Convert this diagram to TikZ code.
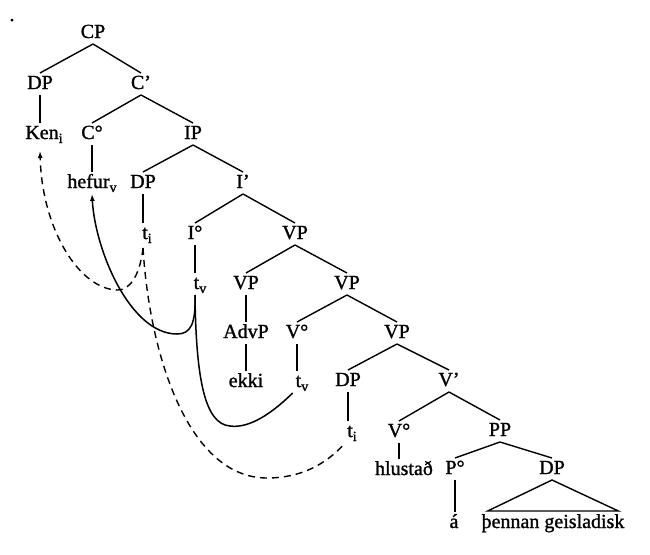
\documentclass[tikz,border=0pt]{standalone}
\usepackage{fontspec}
\setmainfont{Liberation Serif}[FakeBold=1.2]
\usetikzlibrary{arrows.meta,calc}
\newcommand\lsub[1]{\raisebox{-4pt}{\fontsize{14}{14}\selectfont #1}}
\begin{document}
\begin{tikzpicture}[x=1pt,y=-1pt,
  lbl/.style={inner sep=2pt,outer sep=1pt,text height=13pt,text depth=3pt,font=\fontsize{20}{24}\selectfont},
  branch/.style={line width=1.4pt},
  movedash/.style={line width=1.4pt,dash pattern=on 7pt off 5pt},
  movesolid/.style={line width=1.5pt},
  tip/.style={-{Latex[length=7pt,width=5pt]}}]
\useasboundingbox (0,0) rectangle (650,554);
\node[lbl,anchor=base] (dot) at (12,21) {.};
% nodes
\node[lbl] (cp) at (93,33) {CP};
\node[lbl] (dp1) at (40,84) {DP};
\node[lbl] (c1) at (141,84) {C'};
\node[lbl] (ken) at (44,134) {Ken\lsub{i}};
\node[lbl] (c0) at (92,134) {C°};
\node[lbl] (ip) at (193,134) {IP};
\node[lbl] (hefur) at (92,183) {hefur\lsub{v}};
\node[lbl] (dp2) at (143,183) {DP};
\node[lbl] (ibar) at (243,183) {I'};
\node[lbl] (ti1) at (147,234) {t\lsub{i}};
\node[lbl] (i0) at (195,234) {I°};
\node[lbl] (vp1) at (295,234) {VP};
\node[lbl] (tv1) at (200,284) {t\lsub{v}};
\node[lbl] (vp2) at (246,284) {VP};
\node[lbl] (vp3) at (347,284) {VP};
\node[lbl] (advp) at (246,333) {AdvP};
\node[lbl] (v0a) at (297,333) {V°};
\node[lbl] (vp4) at (397,333) {VP};
\node[lbl] (ekki) at (246,382) {ekki};
\node[lbl] (tv2) at (302,382) {t\lsub{v}};
\node[lbl] (dp3) at (348,381) {DP};
\node[lbl] (vbar) at (449,381) {V'};
\node[lbl] (ti2) at (352,432) {t\lsub{i}};
\node[lbl] (v0b) at (399,432) {V°};
\node[lbl] (pp) at (500,431) {PP};
\node[lbl] (hl) at (404,470) {hlustað};
\node[lbl] (p0) at (455,469) {P°};
\node[lbl] (dp4) at (552,469) {DP};
\node[lbl] (aa) at (454,523) {á};
\node[lbl] (pg) at (553,523) {þennan geisladisk};
% branches
\begin{scope}[branch]
\draw (cp.south) -- (dp1.north);
\draw (cp.south) -- (c1.north);
\draw (dp1.south) -- (dp1.south |- ken.north);
\draw (c1.south) -- (c0.north);
\draw (c1.south) -- (ip.north);
\draw (c0.south) -- (c0.south |- hefur.north);
\draw (ip.south) -- (dp2.north);
\draw (ip.south) -- (ibar.north);
\draw (dp2.south) -- (dp2.south |- ti1.north);
\draw (ibar.south) -- (i0.north);
\draw (ibar.south) -- (vp1.north);
\draw (i0.south) -- (i0.south |- tv1.north);
\draw (vp1.south) -- (vp2.north);
\draw (vp1.south) -- (vp3.north);
\draw (vp2.south) -- (advp.north);
\draw (advp.south) -- (ekki.north);
\draw (vp3.south) -- (v0a.north);
\draw (vp3.south) -- (vp4.north);
\draw (v0a.south) -- (v0a.south |- tv2.north);
\draw (vp4.south) -- (dp3.north);
\draw (vp4.south) -- (vbar.north);
\draw (dp3.south) -- (dp3.south |- ti2.north);
\draw (vbar.south) -- (v0b.north);
\draw (vbar.south) -- (pp.north);
\draw (v0b.south) -- (v0b.south |- hl.north);
\draw (pp.south) -- (p0.north);
\draw (pp.south) -- (dp4.north);
\draw (p0.south) -- (p0.south |- aa.north);
\draw (dp4.south) -- ($(pg.north west)+(9,-1)$) -- ($(pg.north east)+(-9,-1)$) -- cycle;
\end{scope}
% movement paths
\coordinate (tiup) at ($(dp2.south |- ti1.south)+(0,3)$);
\coordinate (tvup) at (i0.south |- tv1.south);
\draw[movedash] (tiup) .. controls (150,360) and (190,478) .. (267,478)
   .. controls (300,478) and (325,465) .. ($(ti2.south west)+(0,1)$);
\draw[movedash,tip] (tiup) .. controls (140,275) and (130,290) .. (118,290)
   .. controls (80,290) and (42,230) .. ($(ken.south)+(-4,6)$);
\draw[movesolid] (tv2.south west) .. controls (265,420) and (245,428) .. (230,426)
   .. controls (205,424) and (196,380) .. (tvup);
\draw[movesolid,tip] (tvup) .. controls (196,325) and (190,334) .. (177,334)
   .. controls (130,334) and (95,250) .. (hefur.south);
\end{tikzpicture}
\end{document}
